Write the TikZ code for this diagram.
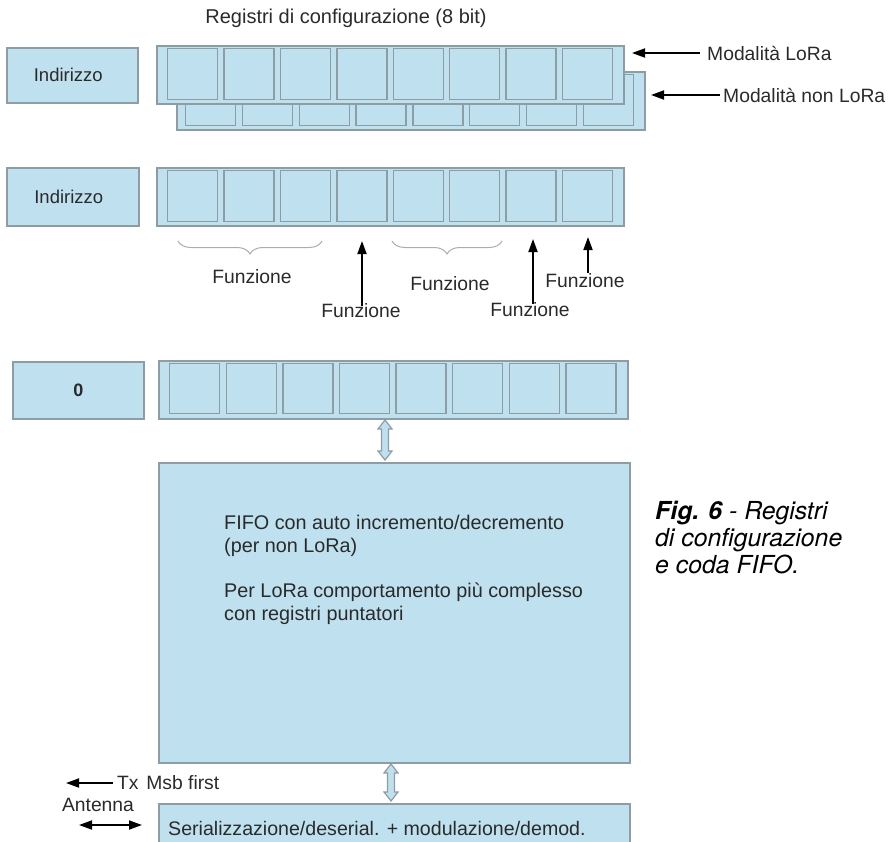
\documentclass[tikz,border=0pt]{standalone}
\usepackage{fontspec}
\setmainfont{Liberation Sans}
\newfontfamily\capfont{TeX Gyre Heros}
\usetikzlibrary{arrows.meta,decorations.pathreplacing,calc}
\definecolor{boxfill}{HTML}{BFE1EF}
\definecolor{boxline}{HTML}{8E9CA4}
\definecolor{txt}{HTML}{2A2A2A}
\begin{document}
\begin{tikzpicture}[x=1pt,y=-1pt,
  regbox/.style={draw=boxline, fill=boxfill, line width=1.6pt, inner sep=0pt, anchor=north west, rectangle},
  cellbox/.style={draw=boxline, fill=boxfill, line width=1.3pt, inner sep=0pt, anchor=north west, rectangle, minimum width=50pt},
  lbl/.style={text=txt, inner sep=0pt, font=\fontsize{19.3}{23}\selectfont},
  arr/.style={line width=1.8pt, -{Triangle[length=13pt,width=9pt]}},
  darr/.style={line width=1.8pt, {Triangle[length=13pt,width=9pt]}-{Triangle[length=13pt,width=9pt]}},
  hol/.style={draw=boxline, fill=boxfill, line width=1.2pt, line join=miter},
  brc/.style={draw=gray!65, line width=1pt, decorate, decoration={brace, mirror, amplitude=13pt}}
]
\useasboundingbox (0,0) rectangle (891,841);
\clip (0,0) rectangle (891,841);

% ---------- title ----------
\node[lbl, font=\fontsize{20}{24}\selectfont] (title) at (346,18) {Registri di configurazione (8 bit)};

% ---------- row 1 ----------
\node[regbox, minimum width=131pt, minimum height=55pt] (addr1) at (6,47) {};
\node[lbl, font=\fontsize{18.5}{22}\selectfont] at ($(addr1.center)+(-4,0)$) {Indirizzo};
% back strip (non LoRa)
\node[regbox, minimum width=468pt, minimum height=58pt] (back) at (176,71) {};
\foreach \i in {0,...,7}
  \node[cellbox, minimum height=51pt] (b\i) at ({185+56.8*\i},74) {};
% front strip (LoRa)
\node[regbox, minimum width=467pt, minimum height=58pt] (front) at (156,45) {};
\foreach \i in {0,...,7}
  \node[cellbox, minimum height=51pt] (f\i) at ({167+56.4*\i},48) {};

\node[lbl, anchor=west] (mlora) at (707,53) {Modalità LoRa};
\coordinate (tipA) at (632,53);
\draw[arr] (mlora.west) ++(-7,0) -- (tipA);
\node[lbl, anchor=west] (mnon) at (723,95) {Modalità non LoRa};
\coordinate (tipB) at (651,95);
\draw[arr] (mnon.west) ++(-3,0) -- (tipB);

% ---------- row 2 ----------
\node[regbox, minimum width=132pt, minimum height=58pt] (addr2) at (6,167) {};
\node[lbl, font=\fontsize{18.5}{22}\selectfont] at ($(addr2.center)+(-4,0)$) {Indirizzo};
\node[regbox, minimum width=467pt, minimum height=58pt] (mid) at (156,167) {};
\foreach \i in {0,...,7}
  \node[cellbox, minimum height=51pt] (m\i) at ({167+56.4*\i},170) {};

% braces and labels
\coordinate (brA1) at (178,241);
\coordinate (brA2) at (322,241);
\draw[brc] (brA1) -- (brA2);
\node[lbl] (fun1) at (252,277) {Funzione};
\coordinate (brB1) at (392,241);
\coordinate (brB2) at (502,241);
\draw[brc] (brB1) -- (brB2);
\node[lbl] (fun2) at (450,284) {Funzione};

\node[lbl] (fun3) at (361,311) {Funzione};
\coordinate (tip3) at (362,241);
\draw[arr] (362,306) -- (tip3);
\node[lbl] (fun4) at (530,310) {Funzione};
\coordinate (tip4) at (533,239);
\draw[arr] (533,304) -- (tip4);
\node[lbl] (fun5) at (585,281) {Funzione};
\coordinate (tip5) at (588,237);
\draw[arr] (588,273) -- (tip5);

% ---------- row 3 ----------
\node[regbox, minimum width=131pt, minimum height=57pt] (zero) at (12,361) {};
\node[lbl, font=\bfseries\fontsize{18}{22}\selectfont] at (zero.center) {0};
\node[regbox, minimum width=469pt, minimum height=58pt] (fifo0) at (158,360) {};
\foreach \i in {0,...,7}
  \node[cellbox, minimum height=50pt] (z\i) at ({169+56.6*\i},363) {};

% ---------- FIFO box ----------
\node[regbox, minimum width=471pt, minimum height=300pt] (fifo) at (158,462) {};
\node[lbl, anchor=north west, align=left, font=\fontsize{19.8}{23}\selectfont] (fifotxt) at (224,515) {FIFO con auto incremento/decremento\\(per non LoRa)\\[22pt]Per LoRa comportamento più complesso\\con registri puntatori};

% ---------- serializer box ----------
\node[regbox, minimum width=471pt, minimum height=60pt] (ser) at (158,803) {};
\node[lbl, anchor=west, font=\fontsize{19.6}{23}\selectfont] (sertxt) at (168,828) {Serializzazione/deserial. + modulazione/demod.};

% ---------- hollow double arrows ----------
\coordinate (h1a) at (385,420);
\coordinate (h1b) at (385,460);
\draw[hol] (h1a) -- ($(h1a)+(7,9)$) -- ($(h1a)+(3.5,9)$) -- ($(h1b)+(3.5,-9)$) -- ($(h1b)+(7,-9)$) -- (h1b)
  -- ($(h1b)+(-7,-9)$) -- ($(h1b)+(-3.5,-9)$) -- ($(h1a)+(-3.5,9)$) -- ($(h1a)+(-7,9)$) -- cycle;
\coordinate (h2a) at (391,764);
\coordinate (h2b) at (391,801);
\draw[hol] (h2a) -- ($(h2a)+(7,9)$) -- ($(h2a)+(3.5,9)$) -- ($(h2b)+(3.5,-9)$) -- ($(h2b)+(7,-9)$) -- (h2b)
  -- ($(h2b)+(-7,-9)$) -- ($(h2b)+(-3.5,-9)$) -- ($(h2a)+(-3.5,9)$) -- ($(h2a)+(-7,9)$) -- cycle;

% ---------- antenna side ----------
\node[lbl, anchor=west] (tx) at (117,783) {Tx\hspace{0.4em}Msb first};
\coordinate (txend) at (66,783);
\draw[arr] (tx.west) ++(-4,0) -- (txend);
\node[lbl] (ant) at (98,805) {Antenna};
\coordinate (antL) at (79,825);
\coordinate (antR) at (142,825);
\draw[darr] (antL) -- (antR);

% ---------- caption ----------
\node[anchor=north west, inner sep=0pt, align=left, font=\capfont\itshape\fontsize{24.8}{27}\selectfont] (cap) at (655,501)
  {\textbf{Fig. 6} - Registri\\di configurazione\\e coda FIFO.};
\end{tikzpicture}
\end{document}
